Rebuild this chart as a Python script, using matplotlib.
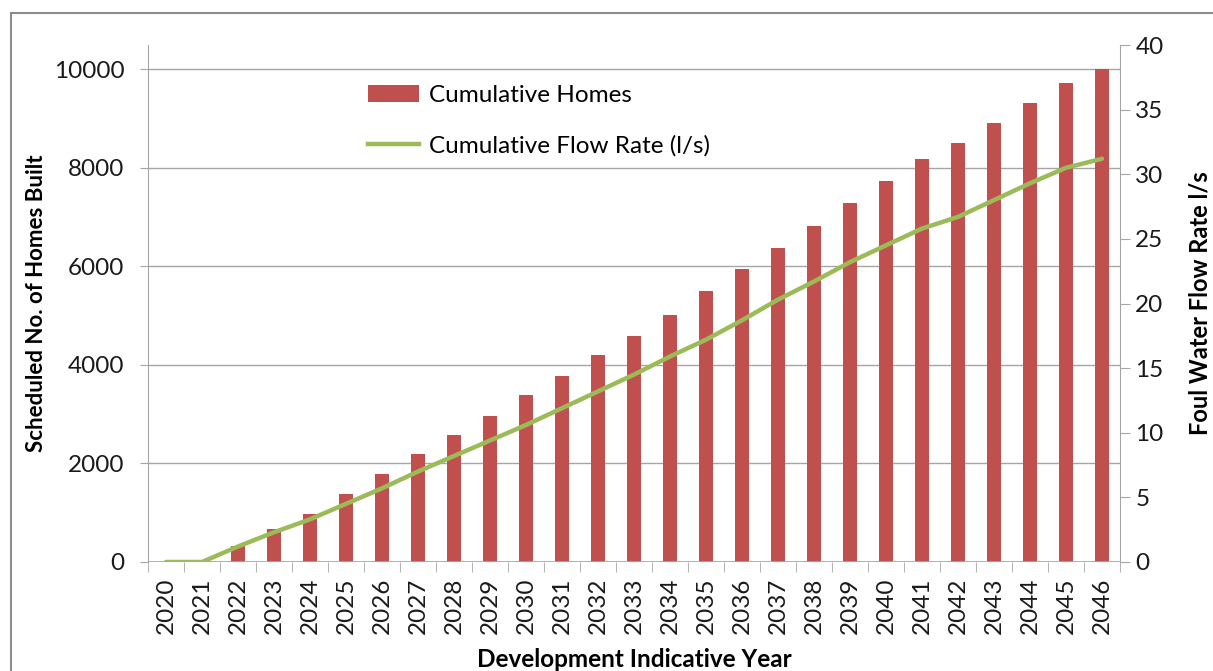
import numpy as np
import matplotlib.pyplot as plt
from matplotlib.patches import Rectangle
from matplotlib.lines import Line2D
from matplotlib.patches import Patch

plt.rcParams['font.family'] = ['Lato', 'DejaVu Sans']

years = [str(y) for y in range(2020, 2047)]
homes = [0, 0, 325, 660, 965, 1385, 1780, 2190, 2575, 2965, 3380, 3770, 4190,
         4585, 5020, 5495, 5935, 6375, 6815, 7280, 7720, 8170, 8500, 8895,
         9315, 9710, 10000]
flow = [0, 0, 1.2, 2.3, 3.3, 4.5, 5.7, 7.0, 8.2, 9.4, 10.6, 11.9, 13.2,
        14.5, 15.9, 17.2, 18.7, 20.3, 21.7, 23.2, 24.5, 25.8, 26.7, 28.0,
        29.3, 30.5, 31.2]

bar_col = '#C0504D'
line_col = '#9BBB59'
grid_col = '#A6A6A6'
txt_col = '#1A1A1A'
fs = 17.5

fig = plt.figure(figsize=(12.13, 6.71), dpi=100)
# outer chart border
fig.patches.append(Rectangle((11 / 1213, -0.05), 1.1, 1 - 13 / 671 + 0.05,
                             transform=fig.transFigure, fill=False,
                             edgecolor='#8C8C8C', linewidth=1.5))

ax = fig.add_axes([148 / 1213, 109 / 671, 972 / 1213, 517 / 671])
x = np.arange(len(years))
ax.bar(x, homes, width=0.4, color=bar_col, zorder=3)
ax.set_xlim(-0.5, len(years) - 0.5)
ax.set_ylim(0, 10487)
ax.set_yticks(range(0, 10001, 2000))
ax.yaxis.grid(True, color=grid_col, linewidth=1)
ax.set_axisbelow(True)
for s in ['top', 'right', 'bottom']:
    ax.spines[s].set_visible(False)
ax.spines['left'].set_color(grid_col)
ax.tick_params(axis='y', colors=grid_col, labelcolor=txt_col, labelsize=fs,
               length=6, direction='out', pad=11)

# category ticks sit between the bars
ax.set_xticks(x)
ax.set_xticklabels(years, rotation=90, fontsize=fs, color=txt_col)
ax.tick_params(axis='x', length=0, pad=11)
ax.set_xticks(np.arange(-0.5, len(years)), minor=True)
ax.tick_params(axis='x', which='minor', length=7, color=grid_col)
ax.axhline(0, color=grid_col, linewidth=1.2, zorder=4)

ax.set_ylabel('Scheduled No. of Homes Built', fontsize=16, fontweight='bold',
              labelpad=5)
ax.set_xlabel('Development Indicative Year', fontsize=17.5, fontweight='bold',
              labelpad=10)

ax2 = ax.twinx()
ax2.plot(x, flow, color=line_col, linewidth=3.2, zorder=5,
         solid_capstyle='round')
ax2.set_ylim(0, 40)
ax2.set_yticks(range(0, 41, 5))
for s in ['top', 'left', 'bottom']:
    ax2.spines[s].set_visible(False)
ax2.spines['right'].set_color(grid_col)
ax2.tick_params(axis='y', colors=grid_col, labelcolor=txt_col, labelsize=fs,
                length=7, direction='out', pad=4)
ax2.set_ylabel('Foul Water Flow Rate l/s', fontsize=17, fontweight='bold',
               labelpad=18)

handles = [Patch(facecolor=bar_col, edgecolor='none'),
           Line2D([0], [0], color=line_col, linewidth=3.2)]
ax.legend(handles, ['Cumulative Homes', 'Cumulative Flow Rate (l/s)'],
          loc='upper left', bbox_to_anchor=(0.204, 0.965), frameon=False,
          fontsize=fs, handlelength=2.1, handleheight=0.7, labelspacing=1.2,
          handletextpad=0.4)

fig.savefig('out.png', dpi=100)
